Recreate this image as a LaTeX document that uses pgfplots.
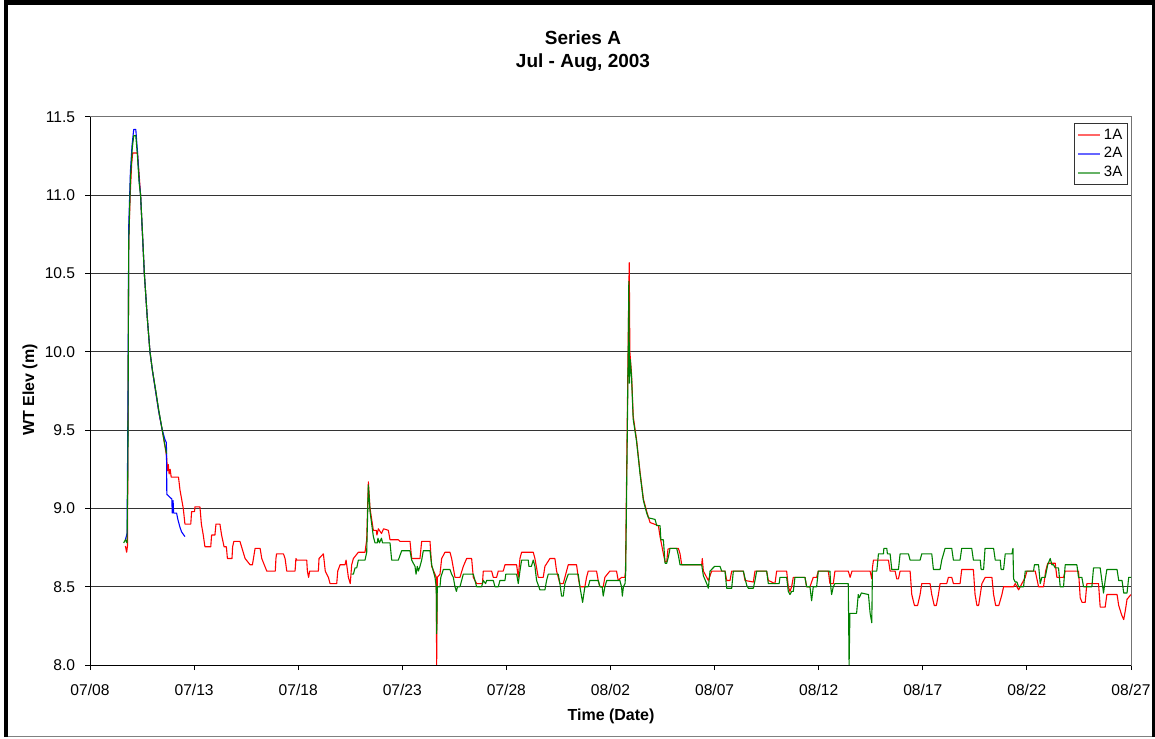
\documentclass[border=0pt]{standalone}
\usepackage{pgfplots}
\pgfplotsset{compat=1.18}
\usepackage{fontspec}
\setmainfont{Liberation Sans}
\definecolor{xlred}{RGB}{255,0,0}
\definecolor{xlblue}{RGB}{0,0,255}
\definecolor{xlgreen}{RGB}{0,128,0}
\begin{document}
\begin{tikzpicture}
\useasboundingbox (0pt,0pt) rectangle (577.5pt,369pt);
\fill[black] (2pt,366.5pt) rectangle (577.5pt,369pt);
\fill[black] (2pt,0.5pt) rectangle (4pt,369pt);
\fill[black] (576pt,0.5pt) rectangle (577.5pt,369pt);
\draw[black!50,line width=0.5pt] (4pt,1pt) -- (576pt,1pt);
\node[font=\bfseries\fontsize{9.5}{11}\selectfont,anchor=base] at (291.5pt,346.5pt) {Series A};
\node[font=\bfseries\fontsize{9.5}{11}\selectfont,anchor=base] at (291.5pt,335pt) {Jul - Aug, 2003};
\node[font=\bfseries\fontsize{8}{10}\selectfont] at (305.5pt,11pt) {Time (Date)};
\node[font=\bfseries\fontsize{8}{10}\selectfont,rotate=90] at (15pt,174pt) {WT Elev (m)};
\begin{axis}[
  at={(45pt,36.5pt)}, anchor=south west,
  width=520.5pt, height=274pt, scale only axis,
  xmin=0, xmax=50, ymin=8, ymax=11.5,
  xtick={0,5,...,50},
  xticklabels={07/08,07/13,07/18,07/23,07/28,08/02,08/07,08/12,08/17,08/22,08/27},
  ytick={8,8.5,...,11.5},
  yticklabel style={/pgf/number format/fixed,/pgf/number format/fixed zerofill,/pgf/number format/precision=1,xshift=-1.4pt},
  /pgf/number format/assume math mode=true,
  ticklabel style={font=\fontsize{7.8}{9}\selectfont},
  xticklabel style={yshift=-3.5pt},
  tick align=outside, major tick length=2.5pt,
  xtick pos=bottom, ytick pos=left,
  tick style={black, line width=0.5pt},
  axis line style={black!55, line width=0.5pt},
  ymajorgrids, grid style={black!80, line width=0.5pt},
  legend style={at={(1,1)}, anchor=north east, xshift=-1.5pt, yshift=-3pt,
    draw=black!80, line width=0.5pt, font=\fontsize{7.5}{9}\selectfont,
    inner sep=1pt, row sep=-0.5pt, nodes={inner sep=1.6pt}},
  legend cell align=left,
  legend image code/.code={\draw[#1, line width=1pt, opacity=0.6] (0pt,0pt) -- (11pt,0pt);},
  every axis plot/.append style={line width=0.55pt, line join=round},
]
\addplot[xlred] coordinates {
(1.70,8.76)(1.76,8.72)(1.80,8.76)(1.84,10.0)(1.86,10.7)(1.93,11.0)(2.0,11.2)(2.05,11.27)(2.28,11.27)(2.35,11.15)(2.43,11.0)(2.52,10.75)(2.61,10.5)(2.75,10.22)(2.88,10.0)(3.0,9.88)(3.15,9.75)(3.3,9.62)(3.47,9.5)(3.6,9.4)(3.68,9.33)(3.72,9.24)(3.76,9.28)(3.80,9.22)(3.85,9.25)(3.9,9.2)(4.25,9.2)(4.32,9.12)(4.40,9.06)(4.48,9.0)(4.56,8.90)
(4.84,8.90)(4.88,8.98)(5.02,8.98)(5.04,9.01)(5.28,9.01)(5.35,8.90)(5.44,8.83)(5.52,8.755)(5.80,8.755)(5.84,8.83)(6.00,8.83)(6.05,8.90)(6.24,8.90)(6.32,8.83)(6.44,8.755)(6.55,8.755)(6.60,8.68)(6.82,8.68)(6.85,8.755)(6.91,8.79)(7.20,8.79)(7.28,8.755)(7.45,8.68)(7.69,8.64)(7.80,8.64)(7.85,8.68)(7.93,8.745)(8.17,8.745)(8.25,8.68)(8.49,8.60)(8.90,8.60)(8.93,8.68)(8.96,8.71)(9.29,8.71)(9.37,8.68)(9.45,8.60)(9.85,8.60)(9.89,8.68)(9.93,8.67)(10.41,8.67)(10.44,8.60)(10.50,8.56)(10.55,8.60)(10.97,8.60)(11.00,8.68)(11.21,8.71)(11.30,8.60)(11.45,8.56)(11.53,8.52)(11.85,8.52)(11.90,8.60)(12.01,8.64)(12.25,8.64)(12.30,8.67)(12.41,8.56)(12.50,8.52)(12.57,8.64)
(12.65,8.68)(12.89,8.72)(13.21,8.72)(13.29,8.80)(13.37,9.17)(13.45,9.0)(13.53,8.93)(13.61,8.86)(13.75,8.86)(13.78,8.83)(13.85,8.87)(14.0,8.84)(14.1,8.87)(14.33,8.86)(14.41,8.80)(14.81,8.80)(14.89,8.79)(15.37,8.79)(15.45,8.68)(15.85,8.68)(15.93,8.79)(16.33,8.79)(16.41,8.63)(16.57,8.58)(16.63,8.56)(16.65,8.0)(16.68,8.56)(16.81,8.58)(16.89,8.68)(17.05,8.72)(17.29,8.72)(17.37,8.68)(17.53,8.56)(17.77,8.56)(17.93,8.63)(18.09,8.68)(18.33,8.68)(18.41,8.56)(18.57,8.52)(18.85,8.52)(18.89,8.60)(19.29,8.60)(19.37,8.56)(19.53,8.56)(19.61,8.60)(19.85,8.60)(19.93,8.64)(20.49,8.64)(20.57,8.56)(20.65,8.68)(20.73,8.72)(21.29,8.72)(21.37,8.68)(21.53,8.56)(21.77,8.56)(21.85,8.63)(22.09,8.68)(22.33,8.68)(22.41,8.60)(22.57,8.52)(22.73,8.52)(22.89,8.60)(22.97,8.64)(23.37,8.64)(23.45,8.56)(23.53,8.50)(23.77,8.50)(23.85,8.56)(23.93,8.60)(24.33,8.60)(24.41,8.54)(24.49,8.50)(24.65,8.50)(24.73,8.56)(24.97,8.60)(25.29,8.60)(25.37,8.54)(25.53,8.56)(25.69,8.56)
(25.72,8.60)(25.80,9.5)(25.87,10.3)(25.90,10.57)(25.93,10.0)(26.01,9.86)(26.09,9.59)(26.25,9.44)(26.42,9.23)(26.58,9.06)(26.74,8.98)(26.90,8.91)(27.30,8.89)(27.38,8.82)(27.54,8.71)(27.62,8.66)(27.70,8.66)(27.76,8.74)(27.86,8.745)(28.26,8.745)(28.34,8.71)(28.42,8.64)(29.38,8.64)(29.41,8.68)(29.46,8.60)(29.70,8.54)(29.86,8.60)(30.50,8.60)(30.58,8.54)(30.74,8.54)(30.82,8.60)(31.38,8.60)(31.46,8.54)(31.86,8.53)(31.94,8.60)(32.50,8.60)(32.58,8.54)(32.90,8.52)(32.98,8.60)(33.46,8.60)(33.54,8.50)(33.62,8.47)(33.70,8.50)(33.78,8.56)(34.34,8.56)(34.42,8.50)(34.58,8.50)(34.74,8.56)(34.90,8.56)(34.98,8.60)(35.46,8.60)(35.54,8.52)(35.70,8.52)(35.78,8.60)(36.42,8.60)(36.51,8.56)(36.6,8.60)(37.0,8.60)(37.47,8.60)(37.55,8.55)(37.58,8.62)(37.63,8.67)(37.87,8.67)(38.35,8.67)(38.43,8.60)(38.67,8.60)(38.75,8.55)(38.83,8.55)(38.91,8.60)(39.39,8.60)(39.47,8.45)(39.60,8.38)(39.75,8.38)(39.87,8.45)(39.95,8.52)(40.35,8.52)(40.43,8.45)(40.55,8.38)(40.65,8.38)(40.75,8.45)(40.83,8.52)(41.15,8.52)(41.23,8.56)(41.39,8.56)(41.47,8.52)(41.79,8.52)(41.87,8.61)(42.43,8.61)(42.51,8.45)(42.60,8.38)(42.68,8.38)(42.76,8.45)(42.84,8.52)(43.0,8.56)(43.32,8.56)(43.40,8.45)(43.50,8.38)(43.65,8.38)(43.80,8.45)(43.88,8.50)(44.36,8.50)(44.44,8.52)(44.60,8.48)(44.76,8.52)(44.92,8.56)(45.0,8.60)(45.40,8.60)(45.56,8.50)(45.80,8.50)(45.90,8.60)(46.0,8.65)(46.36,8.65)(46.44,8.56)(46.76,8.56)(46.84,8.60)(47.48,8.60)(47.56,8.43)(47.65,8.40)(47.80,8.40)(47.88,8.52)(48.44,8.52)(48.52,8.37)(48.76,8.37)(48.84,8.45)(49.33,8.45)(49.41,8.38)(49.55,8.32)(49.65,8.29)(49.73,8.35)(49.81,8.42)(50.0,8.45)
};
\addlegendentry{1A}
\addplot[xlblue] coordinates {
(1.70,8.80)(1.78,8.84)(1.83,9.8)(1.86,10.8)(1.94,11.15)(2.02,11.32)(2.10,11.42)(2.2,11.42)(2.28,11.28)(2.36,11.1)(2.43,11.0)(2.52,10.75)(2.61,10.5)(2.75,10.22)(2.88,10.0)(3.0,9.88)(3.15,9.75)(3.3,9.62)(3.47,9.5)(3.6,9.44)(3.67,9.42)(3.69,9.09)(3.93,9.06)(3.95,8.97)(3.99,9.05)(4.02,8.97)(4.16,8.97)(4.22,8.93)(4.32,8.88)(4.40,8.85)(4.56,8.82)
};
\addlegendentry{2A}
\addplot[xlgreen] coordinates {
(1.62,8.78)(1.70,8.80)(1.78,8.78)(1.82,9.3)(1.86,10.7)(1.94,11.1)(2.03,11.3)(2.1,11.38)(2.2,11.38)(2.28,11.25)(2.36,11.08)(2.43,11.0)(2.52,10.76)(2.61,10.5)(2.75,10.22)(2.88,10.0)(3.0,9.88)(3.15,9.76)(3.3,9.63)(3.47,9.5)(3.6,9.4)(3.68,9.35)
};
\addlegendentry{3A}
\addplot[xlgreen, forget plot] coordinates {
(12.57,8.58)(12.65,8.58)(12.73,8.62)(12.81,8.62)(12.89,8.67)(13.21,8.67)(13.29,8.72)(13.37,9.15)(13.45,8.98)(13.53,8.90)(13.61,8.82)(13.69,8.78)(13.8,8.78)(13.83,8.81)(13.9,8.78)(14.0,8.81)(14.05,8.78)(14.41,8.78)(14.49,8.67)(14.81,8.67)(14.89,8.70)(14.97,8.73)(15.37,8.73)(15.45,8.67)(15.61,8.63)(15.66,8.58)(15.72,8.63)(15.77,8.60)(15.85,8.63)(15.93,8.67)(16.01,8.73)(16.33,8.73)(16.41,8.64)(16.57,8.56)(16.63,8.50)(16.65,8.20)(16.68,8.50)(16.81,8.50)(16.85,8.56)(16.97,8.61)(17.29,8.61)(17.37,8.58)(17.45,8.56)(17.53,8.50)(17.6,8.47)(17.65,8.50)(17.77,8.50)(17.85,8.54)(17.93,8.58)(18.41,8.58)(18.49,8.54)(18.57,8.50)(18.81,8.50)(18.89,8.54)(19.0,8.52)(19.05,8.54)(19.37,8.54)(19.45,8.50)(19.61,8.50)(19.69,8.54)(19.93,8.54)(19.97,8.58)(20.49,8.58)(20.57,8.52)(20.65,8.60)(20.73,8.67)(21.05,8.67)(21.08,8.63)(21.20,8.63)(21.29,8.67)(21.37,8.63)(21.45,8.54)(21.61,8.48)(21.85,8.48)(21.93,8.54)(22.01,8.58)(22.49,8.58)(22.57,8.52)(22.65,8.44)(22.73,8.44)(22.81,8.52)(22.97,8.58)(23.45,8.58)(23.53,8.50)(23.66,8.40)(23.77,8.50)(23.93,8.50)(24.01,8.54)(24.41,8.54)(24.49,8.50)(24.60,8.50)(24.65,8.44)(24.73,8.50)(24.82,8.54)(25.45,8.54)(25.53,8.50)(25.57,8.44)(25.62,8.50)(25.70,8.52)
(25.73,8.6)(25.80,9.4)(25.86,10.1)(25.88,10.45)(25.91,9.8)(25.95,9.95)(26.01,9.84)(26.09,9.57)(26.25,9.43)(26.42,9.22)(26.58,9.05)(26.74,8.97)(26.82,8.94)(27.14,8.93)(27.22,8.89)(27.38,8.89)(27.42,8.80)(27.54,8.80)(27.62,8.65)(27.70,8.65)(27.78,8.69)(27.86,8.745)(28.18,8.745)(28.26,8.70)(28.34,8.64)(29.38,8.64)(29.46,8.57)(29.62,8.52)(29.70,8.49)(29.78,8.60)(30.0,8.63)(30.26,8.63)(30.34,8.60)(30.50,8.60)(30.58,8.49)(30.82,8.49)(30.90,8.60)(31.38,8.60)(31.54,8.51)(31.62,8.49)(31.86,8.49)(31.94,8.54)(32.02,8.60)(32.50,8.60)(32.58,8.52)(32.82,8.52)(32.90,8.52)(33.10,8.52)
(33.14,8.56)(33.46,8.56)(33.54,8.47)(33.62,8.45)(33.70,8.47)(33.78,8.47)(33.86,8.56)(34.34,8.56)(34.42,8.50)(34.58,8.50)(34.66,8.41)(34.74,8.50)(34.90,8.50)(34.98,8.60)(35.54,8.60)(35.58,8.50)(35.62,8.45)(35.70,8.50)(35.78,8.52)(36.42,8.52)(36.46,8.0)(36.50,8.33)(36.82,8.33)(36.90,8.45)(36.95,8.43)(37.05,8.46)(37.39,8.45)(37.47,8.33)(37.55,8.27)(37.58,8.60)(37.79,8.60)(37.87,8.71)(38.11,8.71)(38.13,8.745)(38.27,8.745)(38.30,8.71)(38.43,8.71)(38.51,8.61)(38.83,8.61)(38.91,8.71)(39.31,8.71)(39.39,8.67)(39.87,8.67)(39.95,8.71)(40.43,8.71)(40.51,8.61)(40.83,8.61)(40.91,8.67)(41.07,8.745)(41.39,8.745)(41.47,8.67)(41.79,8.67)(41.87,8.745)(42.35,8.745)(42.43,8.67)(42.76,8.67)(42.80,8.61)(42.92,8.61)(42.99,8.745)(43.40,8.745)(43.48,8.67)(43.72,8.67)(43.76,8.61)(43.88,8.61)(43.96,8.71)(44.28,8.71)(44.33,8.745)(44.36,8.55)(44.44,8.53)(44.52,8.53)(44.60,8.50)(44.84,8.50)(44.92,8.60)(45.32,8.60)(45.36,8.64)(45.56,8.64)(45.64,8.52)(45.72,8.56)(45.88,8.56)(46.0,8.64)(46.12,8.68)(46.20,8.64)(46.28,8.64)(46.36,8.62)(46.52,8.62)(46.60,8.50)(46.76,8.50)(46.84,8.64)(47.40,8.64)(47.48,8.56)(47.64,8.56)(47.72,8.50)(48.12,8.50)(48.20,8.62)(48.52,8.62)(48.60,8.54)(48.68,8.46)(48.76,8.54)(48.84,8.61)(49.33,8.61)(49.41,8.54)(49.57,8.54)(49.65,8.46)(49.81,8.46)(49.89,8.56)(50.0,8.56)
};
\draw[black, line width=0.5pt] (rel axis cs:0,1) -- (rel axis cs:0,0) -- (rel axis cs:1,0);
\end{axis}
\end{tikzpicture}
\end{document}
